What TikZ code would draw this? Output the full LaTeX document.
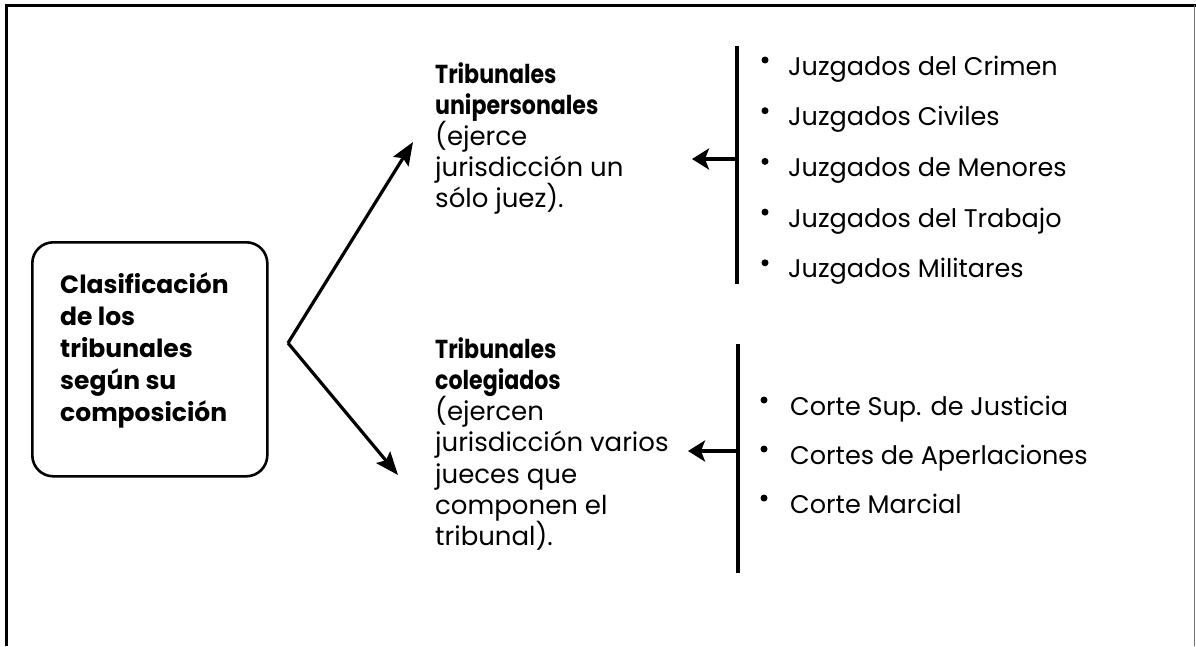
\documentclass[tikz,border=0pt]{standalone}
\usepackage{fontspec}
\setmainfont{Poppins}
\newfontfamily\narrowfont{Poppins}[FakeStretch=0.85]
\usetikzlibrary{arrows.meta}
\begin{document}
\begin{tikzpicture}[x=1pt,y=-1pt,
  frame/.style={line width=3pt},
  bigarrow/.style={line width=3.2pt,-{Stealth[length=23pt,width=18pt,inset=4pt]}},
  sidearrow/.style={line width=3.4pt,-{Stealth[length=17pt,width=21pt,inset=4pt]}},
  bar/.style={line width=3.2pt},
  line/.style={inner sep=0pt,anchor=base west,font=\fontsize{26}{31}\selectfont},
  headline/.style={inner sep=0pt,anchor=base west,font=\narrowfont\bfseries\fontsize{26}{31}\selectfont},
  boxline/.style={inner sep=0pt,anchor=base west,font=\bfseries\fontsize{25}{32}\selectfont},
  item/.style={inner sep=0pt,anchor=base west,font=\fontsize{25.5}{30}\selectfont},
  dot/.style={circle,fill=black,inner sep=0pt,minimum size=7pt}
]
\useasboundingbox (0,0) rectangle (1196,646);
% frame
\draw[frame] (6.5,646) -- (6.5,5.5) -- (1196,5.5);
\draw[line width=1pt,black!55] (1194.5,5) -- (1194.5,646);

% classification box
\node[draw,line width=2.6pt,rounded corners=21pt,minimum width=235pt,minimum height=234pt,anchor=north west] (clasbox) at (31,241) {};
\node[boxline] (clas1) at (60,293) {Clasificación};
\node[boxline] (clas2) at (60,325) {de los};
\node[boxline] (clas3) at (60,357) {tribunales};
\node[boxline] (clas4) at (60,389) {según su};
\node[boxline] (clas5) at (60,421) {composición};

% apex and diagonal arrows
\coordinate (apex) at (288,343);
\coordinate (uptip) at (413,142);
\coordinate (lowtip) at (398,475);
\draw[bigarrow] (apex) -- (uptip);
\draw[bigarrow] (apex) -- (lowtip);

% upper middle text
\node[headline] (uni1) at (435,83) {Tribunales};
\node[headline] (uni2) at (435,114) {unipersonales};
\node[line] (uni3) at (435,145) {(ejerce};
\node[line] (uni4) at (435,176) {jurisdicción un};
\node[line] (uni5) at (435,207) {sólo juez).};

% lower middle text
\node[headline] (col1) at (435,358) {Tribunales};
\node[headline] (col2) at (435,389.3) {colegiados};
\node[line] (col3) at (435,420.6) {(ejercen};
\node[line] (col4) at (435,451.9) {jurisdicción varios};
\node[line] (col5) at (435,483.2) {jueces que};
\node[line] (col6) at (435,514.5) {componen el};
\node[line] (col7) at (435,545.8) {tribunal).};

% upper bar and arrow
\coordinate (ubtop) at (737,46);
\coordinate (ubbot) at (737,284);
\coordinate (ubmid) at (737,159);
\coordinate (ubtip) at (692,159);
\draw[bar] (ubtop) -- (ubbot);
\draw[sidearrow] (ubmid) -- (ubtip);

% lower bar and arrow
\coordinate (lbtop) at (738,344);
\coordinate (lbbot) at (738,573);
\coordinate (lbmid) at (738,451);
\coordinate (lbtip) at (688,451);
\draw[bar] (lbtop) -- (lbbot);
\draw[sidearrow] (lbmid) -- (lbtip);

% upper list
\foreach \t [count=\i] in {Juzgados del Crimen,Juzgados Civiles,Juzgados de Menores,Juzgados del Trabajo,Juzgados Militares}{
  \node[dot] (d\i) at (765,{60+50.7*(\i-1)}) {};
  \node[item] (i\i) at (788,{75+50.7*(\i-1)}) {\t};
}

% lower list
\foreach \t [count=\i] in {Corte Sup. de Justicia,Cortes de Aperlaciones,Corte Marcial}{
  \node[dot] (e\i) at (764,{400+49*(\i-1)}) {};
  \node[item] (j\i) at (790,{415+49*(\i-1)}) {\t};
}
\end{tikzpicture}
\end{document}
